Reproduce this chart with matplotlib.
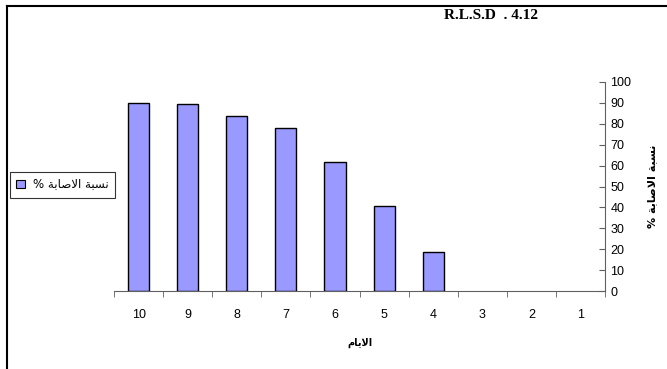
import matplotlib
matplotlib.use("Agg")
import matplotlib.pyplot as plt
from matplotlib.lines import Line2D
from matplotlib.patches import Patch

days = ["10", "9", "8", "7", "6", "5", "4", "3", "2", "1"]
infection = [90, 89.5, 83.7, 77.8, 61.7, 40.5, 18.5, 0, 0, 0]
yticks = list(range(0, 101, 10))

# Arabic written in presentation forms, visual order (matplotlib does no shaping)
label_infection = "% \uFE94\uFE91\uFE8E\uFEBB\uFEFB\uFE8D \uFE94\uFE92\uFEB4\uFEE7"
label_days = "\uFEE1\uFE8E\uFEF3\uFEFB\uFE8D"
title = "R.L.S.D  . 4.12"

arabic = ["DejaVu Sans"]
latin = ["Liberation Sans", "DejaVu Sans"]

fig = plt.figure(figsize=(6.67, 3.69), dpi=100)
ax = fig.add_axes([0.171, 0.211, 0.736, 0.567])

x = list(range(len(days)))
bars = ax.bar(x, infection, width=0.43, color="#9999FF", edgecolor="black", linewidth=1, zorder=3)
# Excel draws nothing for empty values
for b, v in zip(bars, infection):
    if v == 0:
        b.set_linewidth(0)

ax.set_xlim(-0.5, len(days) - 0.5)
ax.set_ylim(0, 100)

for s in ["top", "left"]:
    ax.spines[s].set_visible(False)
ax.spines["bottom"].set_color("#606060")
ax.spines["right"].set_color("#606060")

ax.set_xticks(x)
ax.set_xticklabels(days, family=latin, fontsize=9)
ax.set_xticks([i - 0.5 for i in range(len(days) + 1)], minor=True)
ax.tick_params(axis="x", which="major", length=0, pad=13)
ax.tick_params(axis="x", which="minor", length=4, direction="out", color="#606060")

ax.yaxis.tick_right()
ax.set_yticks(yticks)
ax.set_yticklabels([str(v) for v in yticks], family=latin, fontsize=9)
ax.tick_params(axis="y", length=4, direction="in", pad=4, color="#606060")

ax.set_xlabel(label_days, family=arabic, fontsize=7, fontweight="bold", labelpad=12)
ax.yaxis.set_label_position("right")
ax.set_ylabel(label_infection, family=arabic, fontsize=8, fontweight="bold",
              rotation=90, labelpad=11)

handle = Patch(facecolor="#9999FF", edgecolor="black", linewidth=0.8)
leg = fig.legend([handle], [label_infection], loc="center left",
                 bbox_to_anchor=(0.015, 0.499), prop={"family": arabic, "size": 8.5},
                 frameon=True, fancybox=False, edgecolor="black",
                 handlelength=0.7, handleheight=0.7, handletextpad=0.7,
                 borderpad=0.55, borderaxespad=0)
leg.get_frame().set_linewidth(0.8)

fig.text(0.736, 0.958, title, family=["Liberation Serif", "DejaVu Serif"],
         fontsize=11, fontweight="bold", ha="center", va="center")

# outer frame of the chart area (top and left edges visible)
fig.add_artist(Line2D([7 / 667, 1], [1 - 6 / 369, 1 - 6 / 369], color="black", linewidth=1.5))
fig.add_artist(Line2D([7 / 667, 7 / 667], [0, 1 - 6 / 369], color="black", linewidth=1.5))

fig.savefig("out.png", dpi=100)
